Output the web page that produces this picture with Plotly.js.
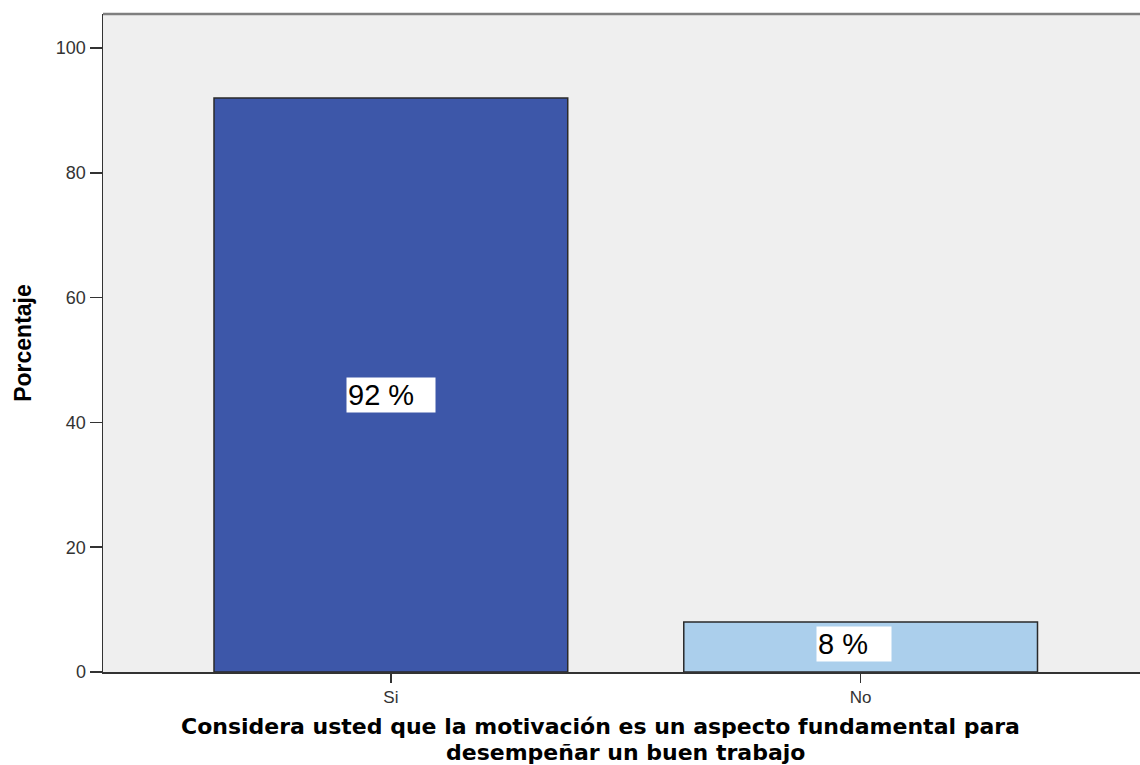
<!DOCTYPE html>
<html>
<head>
<meta charset="utf-8">
<script src="https://cdn.plot.ly/plotly-3.0.1.min.js"></script>
<style>html,body{margin:0;padding:0;background:#fff;}#chart{width:1140px;height:765px;}</style>
</head>
<body>
<div id="chart"></div>
<script>
const categories = ["Si", "No"];
const percentages = [92, 8];
const labels = ["92 %", "8 %"];
const yTicks = [0, 20, 40, 60, 80, 100];
const xTitleLines = ["Considera usted que la motivación es un aspecto fundamental para", "desempeñar un buen trabajo"];
const yTitle = "Porcentaje";

const barColors = ["#3d57a9", "#abcfec"];
const labelYShift = [-10, 3];
const labelWidth = [86, 72];

const trace = {
  type: "bar",
  x: [0, 1],
  y: percentages,
  width: 0.753,
  marker: {color: barColors, line: {color: "#2a2a2a", width: 1.5}},
  hoverinfo: "skip"
};

const annotations = percentages.map((v, i) => ({
  x: i, y: v / 2, xref: "x", yref: "y",
  xanchor: "left", xshift: -45, yanchor: "middle", yshift: labelYShift[i],
  text: labels[i], showarrow: false, align: "left", width: labelWidth[i],
  bgcolor: "#ffffff", borderpad: 1,
  font: {family: "Liberation Sans, Arial, sans-serif", size: 29, color: "#000"}
}));

const titleX = [0.4802, 0.5043];
const titleShift = [-54, -80];
xTitleLines.forEach((t, i) => annotations.push({
  xref: "paper", yref: "paper", x: titleX[i], y: 0,
  xanchor: "center", yanchor: "middle", yshift: titleShift[i],
  text: "<b>" + t + "</b>", showarrow: false,
  font: {family: "DejaVu Sans, Verdana, sans-serif", size: 22, color: "#000"}
}));

const layout = {
  width: 1140, height: 765,
  margin: {l: 103, r: 0, t: 14, b: 93},
  paper_bgcolor: "#ffffff",
  plot_bgcolor: "#efefef",
  showlegend: false,
  bargap: 0,
  xaxis: {
    range: [-0.6128, 1.5947],
    tickvals: [0, 1], ticktext: categories,
    ticks: "outside", ticklen: 9, tickwidth: 1.5, tickcolor: "#333",
    showline: true, linecolor: "#333", linewidth: 1.5,
    showgrid: false, zeroline: false,
    tickfont: {family: "Liberation Sans, Arial, sans-serif", size: 17, color: "#333"}
  },
  yaxis: {
    range: [0, 105.45],
    tickvals: yTicks,
    ticks: "outside", ticklen: 12, tickwidth: 1.5, tickcolor: "#333",
    showline: true, linecolor: "#333", linewidth: 1.5,
    showgrid: false, zeroline: false,
    tickfont: {family: "Liberation Sans, Arial, sans-serif", size: 18, color: "#333"},
    title: {
      text: "<b>" + yTitle + "</b>",
      font: {family: "Liberation Sans, Arial, sans-serif", size: 23, color: "#000"},
      standoff: 18
    }
  },
  shapes: [{
    type: "line", xref: "paper", yref: "paper", x0: 0, x1: 1, y0: 1, y1: 1,
    line: {color: "#7f7f7f", width: 2.5}
  }],
  annotations: annotations
};

Plotly.newPlot("chart", [trace], layout, {displayModeBar: false, staticPlot: true});
</script>
</body>
</html>
